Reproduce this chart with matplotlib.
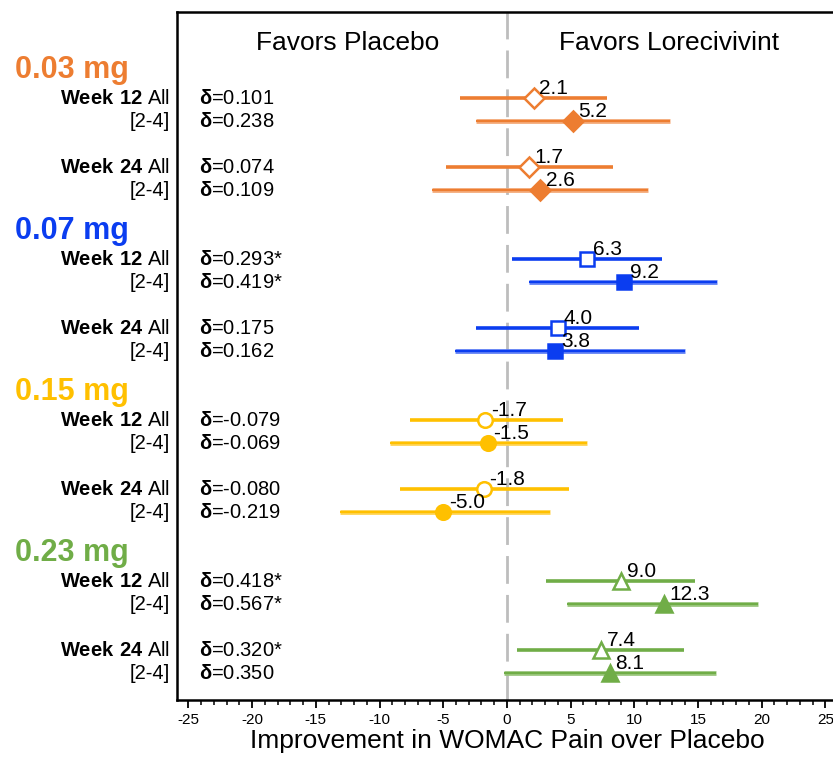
import matplotlib
matplotlib.use("Agg")
import matplotlib.pyplot as plt
from matplotlib.transforms import blended_transform_factory
from matplotlib.ticker import MultipleLocator

plt.rcParams['font.family'] = ['Liberation Sans', 'DejaVu Sans']
plt.rcParams['mathtext.fontset'] = 'custom'
plt.rcParams['mathtext.rm'] = 'Liberation Sans'
plt.rcParams['mathtext.bf'] = 'Liberation Sans:bold'
plt.rcParams['axes.unicode_minus'] = False

# doses, colours, markers
doses = ["0.03 mg", "0.07 mg", "0.15 mg", "0.23 mg"]
colors = ["#ED7D31", "#0B3DF0", "#FFC000", "#70AD47"]
light = ["#F4A774", "#5C7CF5", "#FFD24D", "#98C47A"]
markers = ["D", "s", "o", "^"]
msizes = [10, 10, 10.5, 11]

# rows per dose: W12 All, W12 [2-4], W24 All, W24 [2-4]
est = [[2.1, 5.2, 1.7, 2.6],
       [6.3, 9.2, 4.0, 3.8],
       [-1.7, -1.5, -1.8, -5.0],
       [9.0, 12.3, 7.4, 8.1]]
lo = [[-3.7, -2.4, -4.8, -5.9],
      [0.4, 1.7, -2.4, -4.1],
      [-7.6, -9.2, -8.4, -13.1],
      [3.1, 4.7, 0.8, -0.2]]
hi = [[7.9, 12.8, 8.3, 11.1],
      [12.2, 16.5, 10.4, 14.0],
      [4.4, 6.3, 4.9, 3.4],
      [14.8, 19.7, 13.9, 16.4]]
delta = [["0.101", "0.238", "0.074", "0.109"],
         ["0.293*", "0.419*", "0.175", "0.162"],
         ["-0.079", "-0.069", "-0.080", "-0.219"],
         ["0.418*", "0.567*", "0.320*", "0.350"]]
row_labels = [r"$\mathbf{Week\ 12}$ All", "[2-4]", r"$\mathbf{Week\ 24}$ All", "[2-4]"]
row_offset = [0, 1, 3, 4]

fig = plt.figure(figsize=(8.33, 7.57), dpi=100)
ax = fig.add_axes([177 / 833, 1 - 700 / 757, 661 / 833, 688 / 757])
ax.set_xlim(-25.9, 26)
ax.set_ylim(26.17, -3.74)

ax.axvline(0, color="#BDBDBD", lw=2, dashes=(10, 4), zorder=0)

lab_tr = blended_transform_factory(fig.transFigure, ax.transData)

for g in range(4):
    base = 7 * g
    ax.text(15 / 833, base - 1.2, doses[g], transform=lab_tr, color=colors[g],
            fontsize=22, fontweight="bold", ha="left", va="center")
    for r in range(4):
        y = base + row_offset[r]
        filled = r % 2 == 1
        if filled:
            ax.plot([lo[g][r], hi[g][r]], [y, y], color=light[g], lw=3.4,
                    solid_capstyle="butt", zorder=2)
            ax.plot([lo[g][r], hi[g][r]], [y, y], color=colors[g], lw=1.5,
                    solid_capstyle="butt", zorder=2)
        else:
            ax.plot([lo[g][r], hi[g][r]], [y, y], color=colors[g], lw=2.6,
                    solid_capstyle="butt", zorder=2)
        ax.plot(est[g][r], y, marker=markers[g], ms=msizes[g], color=colors[g],
                mfc=colors[g] if filled else "white", mec=colors[g], mew=1.8,
                zorder=3)
        ax.annotate("%.1f" % est[g][r], (est[g][r], y), xytext=(4, 0),
                    textcoords="offset points", fontsize=15, ha="left",
                    va="bottom", zorder=4)
        ax.text(170 / 833, y, row_labels[r], transform=lab_tr, fontsize=14.5,
                ha="right", va="center")
        ax.text(199 / 833, y, r"$\mathbf{δ}$=" + delta[g][r], transform=lab_tr,
                fontsize=14.5, ha="left", va="center")

ax.text(-12.5, -2.4, "Favors Placebo", fontsize=19, ha="center", va="center")
ax.text(12.7, -2.4, "Favors Lorecivivint", fontsize=19, ha="center", va="center")

ax.set_yticks([])
ax.xaxis.set_major_locator(MultipleLocator(5))
ax.xaxis.set_minor_locator(MultipleLocator(1))
ax.tick_params(axis="x", which="major", length=6, width=1.3, labelsize=11, pad=3)
ax.tick_params(axis="x", which="minor", length=3.5, width=1.1)
for s in ["left", "top", "bottom"]:
    ax.spines[s].set_linewidth(1.8)
ax.spines["right"].set_visible(False)
ax.set_xlabel("Improvement in WOMAC Pain over Placebo", fontsize=19, labelpad=2)

fig.savefig("out.png", dpi=100)
